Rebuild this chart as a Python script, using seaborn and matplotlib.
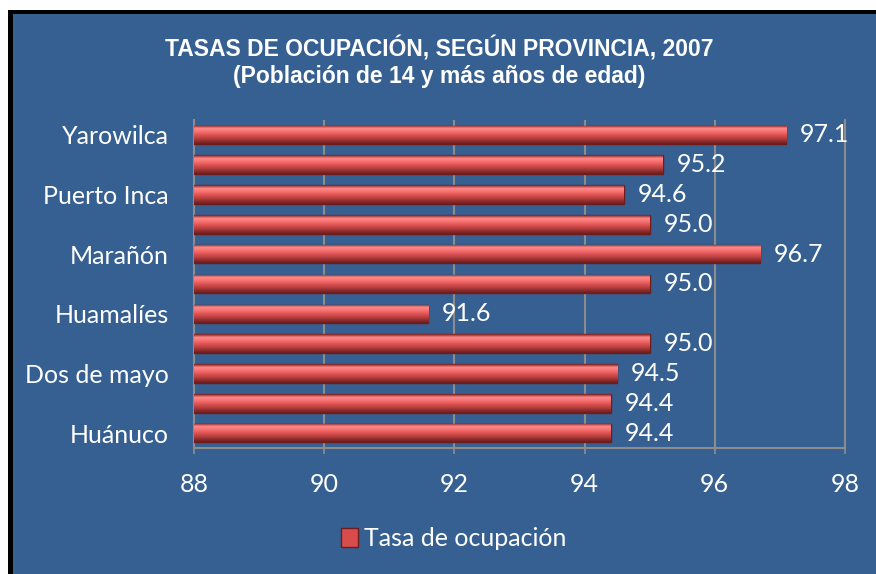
import numpy as np
import pandas as pd
import matplotlib
matplotlib.use("Agg")
import matplotlib.pyplot as plt
import seaborn as sns
from matplotlib.patches import Patch, Rectangle
from matplotlib.colors import LinearSegmentedColormap

# Data (top to bottom as in the chart)
provinces = ["Yarowilca", "Lauricocha", "Puerto Inca", "Pachitea", "Marañón",
             "Leoncio Prado", "Huamalíes", "Huacaybamba", "Dos de mayo",
             "Ambo", "Huánuco"]
rates = [97.1, 95.2, 94.6, 95.0, 96.7, 95.0, 91.6, 95.0, 94.5, 94.4, 94.4]
x_ticks = [88, 90, 92, 94, 96, 98]

title = "TASAS DE OCUPACIÓN, SEGÚN PROVINCIA, 2007\n(Población de 14 y más años de edad)"
series_name = "Tasa de ocupación"

df = pd.DataFrame({"Provincia": provinces, "Tasa": rates})

BG = "#366092"
GRID = "#8C8C8C"

sns.set_theme(style="white")
plt.rcParams["font.family"] = ["Lato", "DejaVu Sans"]

fig = plt.figure(figsize=(8.76, 5.74), dpi=100, facecolor="white")
ax = fig.add_axes([0.2215, 0.2195, 0.743, 0.5715])

# chart background with black frame on the left/top
fig.patches.append(Rectangle((8 / 876, -0.5), 2, 1.5 - 10 / 574, transform=fig.transFigure,
                             facecolor="black", edgecolor="none", zorder=-2))
fig.patches.append(Rectangle((13 / 876, -0.5), 2, 1.5 - 14 / 574, transform=fig.transFigure,
                             facecolor=BG, edgecolor="none", zorder=-1))
ax.set_facecolor(BG)

sns.barplot(data=df, x="Tasa", y="Provincia", orient="h", ax=ax,
            color="#D24A4A", edgecolor="#6E1C1C", linewidth=1.0, width=0.62,
            zorder=3)

# glossy vertical gradient on each bar
cmap = LinearSegmentedColormap.from_list(
    "bar", ["#7A2020", "#FF8A8A", "#F77272", "#E35555", "#C04444", "#953030", "#6E1C1C"])
grad = np.linspace(0, 1, 64).reshape(-1, 1)
for p in ax.patches:
    x0, y0 = p.get_x(), p.get_y()
    w, h = p.get_width(), p.get_height()
    im = ax.imshow(grad, cmap=cmap, aspect="auto", origin="upper",
                   extent=[88, x0 + w, y0 + h, y0], zorder=3.5)
    im.set_clip_path(p)

ax.set_xlim(88, 98)
ax.set_ylim(len(provinces) - 0.5, -0.5)
ax.set_xticks(x_ticks)
ax.set_xticklabels([str(t) for t in x_ticks])
ax.set_yticks(range(len(provinces)))
ax.set_yticklabels([p if i % 2 == 0 else "" for i, p in enumerate(provinces)])
ax.set_xlabel("")
ax.set_ylabel("")

ax.grid(axis="x", color=GRID, linewidth=1.5, zorder=0)
ax.set_axisbelow(True)
ax.spines["top"].set_visible(False)
for s in ["left", "bottom", "right"]:
    ax.spines[s].set_color(GRID)
    ax.spines[s].set_linewidth(1.5)

ax.tick_params(axis="x", colors="white", labelsize=18, length=4, color=GRID,
               pad=14, direction="out", bottom=True)
ax.tick_params(axis="y", colors="white", labelsize=18, length=0, pad=18)

ax.bar_label(ax.containers[0], fmt="%.1f", padding=10, color="white", fontsize=18)

fig.text(0.501, 0.892, title, ha="center", va="center", color="white",
         fontsize=16.5, fontweight="bold", family=["Liberation Sans", "DejaVu Sans"],
         linespacing=1.2)

handle = Patch(facecolor="#D94C4C", edgecolor="#6E1C1C", label=series_name)
fig.legend(handles=[handle], loc="center", bbox_to_anchor=(0.518, 0.062),
           frameon=False, fontsize=18, labelcolor="white", handlelength=0.7,
           handleheight=0.8, handletextpad=0.25)

fig.savefig("out.png", dpi=100, facecolor=fig.get_facecolor())
